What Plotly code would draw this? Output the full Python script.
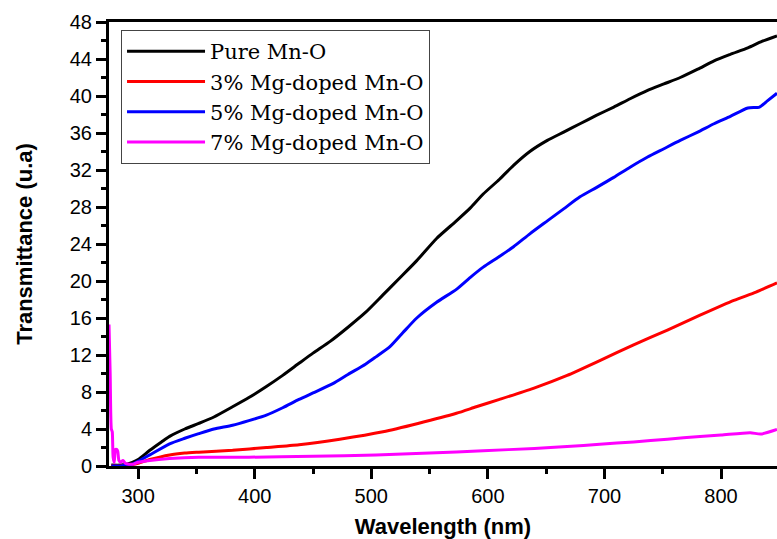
import plotly.graph_objects as go

# ---- data ----
series_names = ["Pure Mn-O", "3% Mg-doped Mn-O", "5% Mg-doped Mn-O", "7% Mg-doped Mn-O"]
series_colors = ["#000000", "#ff0000", "#0000ff", "#ff00ff"]

pure_wl = [277, 285, 290, 295, 300, 310, 320, 327, 340, 352, 365, 381, 395, 410, 424, 438, 450, 465, 480,
           495, 510, 525, 539, 556, 573, 585, 596, 610, 622, 636, 651, 665, 679, 693, 708, 722, 737, 751,
           765, 780, 794, 808, 823, 835, 848]
pure_t = [0.1, 0.1, 0.2, 0.4, 0.7, 1.7, 2.6, 3.2, 4.0, 4.6, 5.3, 6.4, 7.4, 8.6, 9.8, 11.1, 12.2, 13.5, 15.0,
          16.6, 18.5, 20.4, 22.2, 24.6, 26.5, 27.9, 29.4, 31.0, 32.5, 34.0, 35.2, 36.1, 37.0, 37.9, 38.8, 39.7,
          40.6, 41.3, 42.0, 42.9, 43.8, 44.5, 45.2, 45.9, 46.5]

mg3_wl = [277, 285, 292, 300, 310, 327, 340, 352, 381, 410, 438, 473, 510, 540, 573, 590, 610, 639, 668,
          696, 725, 754, 782, 811, 830, 848]
mg3_t = [0.0, 0.0, 0.1, 0.3, 0.7, 1.2, 1.4, 1.5, 1.7, 2.0, 2.3, 2.9, 3.7, 4.6, 5.7, 6.4, 7.2, 8.4, 9.8,
         11.4, 13.1, 14.7, 16.3, 17.9, 18.8, 19.8]

mg5_wl = [277, 285, 290, 295, 300, 310, 327, 340, 352, 365, 381, 395, 410, 424, 438, 450, 467, 480, 495,
          504, 516, 527, 539, 556, 573, 585, 596, 608, 622, 636, 651, 665, 679, 693, 708, 722, 737, 751,
          765, 780, 794, 808, 823, 833, 840, 848]
mg5_t = [0.0, 0.0, 0.1, 0.2, 0.5, 1.2, 2.4, 3.0, 3.5, 4.0, 4.4, 4.9, 5.5, 6.3, 7.2, 7.9, 8.9, 9.9, 11.0,
         11.8, 12.9, 14.4, 16.0, 17.7, 19.1, 20.4, 21.5, 22.5, 23.7, 25.1, 26.5, 27.8, 29.1, 30.1, 31.2,
         32.3, 33.4, 34.3, 35.2, 36.1, 37.0, 37.8, 38.7, 38.8, 39.5, 40.3]

mg7_wl = [275, 276, 277, 277.8, 278.5, 279.5, 280.5, 281.5, 282.5, 283.5, 285, 287, 289, 292, 296, 300,
          310, 327, 352, 395, 450, 504, 550, 596, 640, 668, 696, 725, 754, 782, 800, 825, 834, 848]
mg7_t = [15.3, 10.0, 4.0, 3.7, 1.0, 0.4, 1.8, 1.8, 1.6, 0.6, 0.4, 0.6, 0.3, 0.2, 0.2, 0.4,
         0.6, 0.8, 0.95, 0.95, 1.05, 1.2, 1.4, 1.65, 1.9, 2.1, 2.35, 2.6, 2.9, 3.2, 3.35, 3.6, 3.45, 3.95]

x_range = [275, 848]
y_range = [0, 48]
y_ticks = [0, 4, 8, 12, 16, 20, 24, 28, 32, 36, 40, 44, 48]
x_ticks = [300, 400, 500, 600, 700, 800]

# ---- figure ----
fig = go.Figure()
for name, color, xs, ys in zip(series_names, series_colors,
                               [pure_wl, mg3_wl, mg5_wl, mg7_wl],
                               [pure_t, mg3_t, mg5_t, mg7_t]):
    fig.add_trace(go.Scatter(x=xs, y=ys, mode="lines", name=name,
                             line=dict(color=color, width=3, shape="spline", smoothing=0.6)))

tick_font = dict(family="Arial, Liberation Sans, sans-serif", size=20, color="black")
title_font = dict(family="Arial, Liberation Sans, sans-serif", size=22, color="black")

fig.update_layout(
    width=777, height=539,
    margin=dict(l=109, r=0, t=22, b=73),
    paper_bgcolor="white", plot_bgcolor="white",
    showlegend=True,
    legend=dict(
        x=0.018, y=0.982, xanchor="left", yanchor="top",
        bgcolor="white", bordercolor="#444444", borderwidth=1,
        font=dict(family="DejaVu Serif, Liberation Serif, serif", size=21, color="black"),
        itemwidth=78, tracegroupgap=0,
    ),
    xaxis=dict(
        range=x_range, tickvals=x_ticks,
        title=dict(text="<b>Wavelength (nm)</b>", font=title_font, standoff=14),
        tickfont=tick_font, ticks="outside", ticklen=10, tickwidth=3, tickcolor="black",
        showline=True, linewidth=3, linecolor="black", mirror=True,
        showgrid=False, zeroline=False,
        minor=dict(dtick=50, tick0=0, ticks="outside", ticklen=5, tickwidth=2.5, tickcolor="black", showgrid=False),
        tickprefix="<b>", ticksuffix="</b>",
    ),
    yaxis=dict(
        range=y_range, tickvals=y_ticks,
        title=dict(text="<b>Transmittance (u.a)</b>", font=title_font, standoff=32),
        tickfont=tick_font, ticks="outside", ticklen=10, tickwidth=3, tickcolor="black",
        showline=True, linewidth=3, linecolor="black", mirror=False,
        showgrid=False, zeroline=False,
        minor=dict(dtick=2, tick0=0, ticks="outside", ticklen=5, tickwidth=2.5, tickcolor="black", showgrid=False),
        tickprefix="<b>", ticksuffix="</b>",
    ),
)

fig.write_html("out.html", config={"displayModeBar": False},
               post_script="document.body.style.margin='0';document.body.style.overflow='hidden';")
